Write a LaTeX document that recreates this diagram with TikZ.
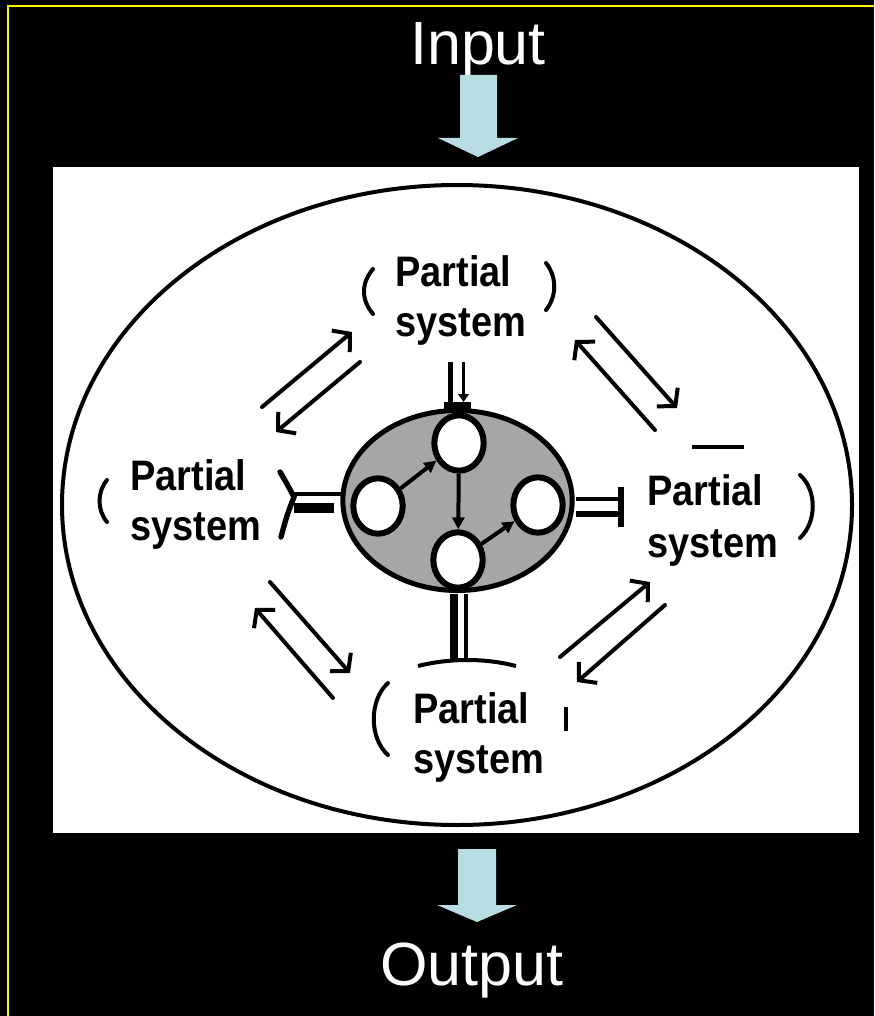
\documentclass[tikz,border=0pt]{standalone}
\usepackage{fontspec}
\setmainfont{Liberation Sans}
\usetikzlibrary{arrows.meta,shapes.geometric}
\definecolor{arrowblue}{RGB}{183,221,226}
\definecolor{cellgray}{RGB}{166,166,166}
\newcommand{\pst}[1]{\scalebox{0.89}[1]{#1}}
\begin{document}
\begin{tikzpicture}[x=0.75pt,y=-0.75pt,
  bigtext/.style={text=white,font=\fontsize{45.75}{50}\selectfont,inner sep=0,anchor=base},
  pstext/.style={font=\bfseries\fontsize{32}{38}\selectfont,inner sep=0,anchor=base west},
  circ/.style={ellipse,draw=black,fill=white,line width=4.5pt,minimum width=37pt,minimum height=41.5pt,inner sep=0},
  paren/.style={line width=3pt,line cap=round},
  flow/.style={line width=3pt,line cap=round,-{Straight Barb[length=9pt,width=21pt,line width=3pt]}},
  inner/.style={line width=3pt,-{Triangle[length=9pt,width=9pt]}},
  bigarrow/.style={fill=arrowblue}
]
\useasboundingbox (0,0) rectangle (874,1016);
\fill[black] (0,0) rectangle (874,1016);
\draw[yellow,line width=1.5pt] (8,1016) -- (8,6) -- (874,6);

% input / output
\node[bigtext] (in) at (478,65) {Input};
\fill[bigarrow] (460,75) -- (497,75) -- (497,138) -- (518,138) -- (478,157) -- (438,138) -- (460,138) -- cycle;
\fill[white] (53,167) rectangle (859,833);
\fill[bigarrow] (458,849) -- (496,849) -- (496,905) -- (517,905) -- (477,922) -- (437,905) -- (458,905) -- cycle;
\node[bigtext] (out) at (472,985) {Output};

% system ellipse
\draw[line width=3pt] (457,505) ellipse [x radius=296.25pt, y radius=240pt];

% core
\node[ellipse,draw=black,fill=cellgray,line width=3.75pt,minimum width=172pt,minimum height=135pt,inner sep=0] (G) at (457.5,500.5) {};
\node[circ] (c1) at (459,443) {};
\node[circ] (c2) at (378,506) {};
\node[circ] (c3) at (458,560) {};
\node[circ] (c4) at (538,505) {};
\draw[inner] (c2) -- (c1);
\draw[inner] (c1) -- (c3);
\draw[inner] (c3) -- (c4);

% stems
\draw[line width=4pt] (450.5,362) -- (450.5,407);
\draw[line width=2.5pt,-{Triangle[length=6pt,width=8pt]}] (463.5,362) -- (463.5,402);
\fill (444,402) rectangle (471,410);

\draw[line width=3pt] (576,498.5) -- (620,498.5);
\draw[line width=4pt] (576,514) -- (620,514);
\draw[line width=4pt] (621,487) -- (621,527);

\draw[line width=3pt] (294,494) -- (341,494);
\draw[line width=7pt] (294,508) -- (334,508);
\draw[paren,line width=4pt] (280,472) .. controls (286,482) .. (294,497) .. controls (287,515) .. (281,537);

\draw[line width=5.5pt] (454,594) -- (454,660);
\draw[line width=3pt] (466,594) -- (466,662);
\draw[line width=3pt] (418,666) .. controls (450,658) and (485,658) .. (516,666);

% partial systems
\node[pstext] (tp) at (395,286) {\pst{Partial}};
\node[pstext] (ts) at (395,336) {\pst{system}};
\node[pstext] (lp) at (130,490) {\pst{Partial}};
\node[pstext] (ls) at (130,540) {\pst{system}};
\node[pstext] (rp) at (647,505) {\pst{Partial}};
\node[pstext] (rs) at (647,557) {\pst{system}};
\node[pstext] (bp) at (413,723) {\pst{Partial}};
\node[pstext] (bs) at (413,773) {\pst{system}};

% brackets
\draw[paren] (373,269) .. controls (361,283) and (361,300) .. (373,314);
\draw[paren] (546,263) .. controls (557,277) and (557,296) .. (546,310);
\draw[paren] (107,480) .. controls (97,492) and (97,510) .. (107,522);
\draw[paren] (800,475) .. controls (817,490) and (817,522) .. (800,538);
\draw[line width=2.5pt] (692,447) -- (744,447);
\draw[paren] (388,683) .. controls (369,700) and (369,738) .. (388,755);
\draw[line width=2.5pt] (566,707) -- (566,731);

% interaction arrows
\coordinate (a1s) at (262,407); \coordinate (a1e) at (352,332);
\coordinate (a2s) at (360,362); \coordinate (a2e) at (276,432);
\coordinate (b1s) at (655,430); \coordinate (b1e) at (575,340);
\coordinate (b2s) at (596,317); \coordinate (b2e) at (677,408);
\coordinate (d1s) at (333,698); \coordinate (d1e) at (255,608);
\coordinate (d2s) at (270,582); \coordinate (d2e) at (350,673);
\coordinate (e1s) at (560,657); \coordinate (e1e) at (650,582);
\coordinate (e2s) at (665,605); \coordinate (e2e) at (577,682);
\foreach \p in {a1,a2,b1,b2,d1,d2,e1,e2}{\draw[flow] (\p s) -- (\p e);}
\end{tikzpicture}
\end{document}
